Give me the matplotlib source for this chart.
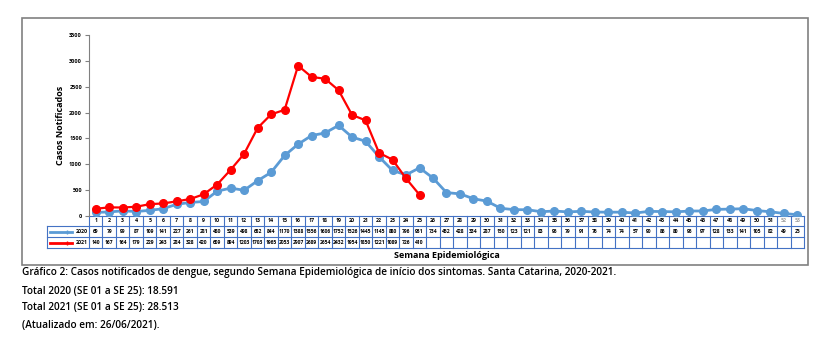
import numpy as np
import matplotlib
matplotlib.use("Agg")
import matplotlib.pyplot as plt
from matplotlib.patches import Rectangle
from matplotlib.lines import Line2D
import matplotlib.transforms as mtransforms

semanas = list(range(1, 54))
casos_2020 = [69, 79, 99, 87, 109, 141, 227, 261, 281, 480, 539, 498, 682, 844, 1170, 1388, 1556, 1606,
              1752, 1526, 1445, 1145, 880, 796, 931, 734, 452, 428, 334, 287, 150, 123, 121, 83, 96, 79,
              91, 76, 74, 74, 57, 90, 86, 80, 96, 97, 128, 133, 141, 105, 82, 49, 25]
casos_2021 = [140, 167, 164, 179, 229, 243, 284, 328, 420, 609, 894, 1203, 1703, 1965, 2053, 2907, 2689,
              2654, 2432, 1954, 1850, 1221, 1089, 726, 410]
y_ticks = [0, 500, 1000, 1500, 2000, 2500, 3000, 3500]

cor_2020 = "#5B9BD5"
cor_2021 = "#FF0000"
cor_grade = "#4472C4"

W, H = 829, 337
plt.rcParams['font.family'] = ['Open Sans', 'DejaVu Sans']
fig = plt.figure(figsize=(W / 100, H / 100), dpi=100)

# moldura do grafico
fig.patches.append(Rectangle((22 / W, 1 - 265 / H), (808 - 22) / W, (265 - 18) / H,
                             transform=fig.transFigure, fill=False, edgecolor="#808080", lw=1.2))

ax = fig.add_axes([89 / W, 1 - 216 / H, (804 - 89) / W, (216 - 35) / H])
ax.plot(semanas, casos_2020, color=cor_2020, lw=2, marker='o', ms=5.5, zorder=3)
ax.plot(semanas[:len(casos_2021)], casos_2021, color=cor_2021, lw=1.6, marker='o', ms=5.5, zorder=4)

ax.set_xlim(0.5, 53.5)
ax.set_ylim(0, 3500)
ax.set_yticks(y_ticks)
ax.set_yticklabels([str(v) for v in y_ticks], fontsize=4, fontweight='bold')
ax.tick_params(axis='y', length=3, width=0.8, color="#808080", pad=2)
ax.set_xticks([])
for s in ['top', 'right', 'bottom']:
    ax.spines[s].set_visible(False)
ax.spines['left'].set_color("#808080")
ax.set_ylabel("Casos Notificados", fontsize=6.5, fontweight='bold', labelpad=3)

# tabela de dados abaixo do eixo
trans = mtransforms.blended_transform_factory(ax.transData, ax.transAxes)
h_px = 216 - 35
rows = [0, -10 / h_px, -21 / h_px, -32 / h_px]
x_left = 0.5 - (89 - 47) / ((804 - 89) / 53)


def hline(x0, x1, y):
    ax.add_line(Line2D([x0, x1], [y, y], transform=trans, color=cor_grade, lw=0.8, clip_on=False))


def vline(x, y0, y1):
    ax.add_line(Line2D([x, x], [y0, y1], transform=trans, color=cor_grade, lw=0.8, clip_on=False))


hline(0.5, 53.5, rows[0])
for r in rows[1:]:
    hline(x_left, 53.5, r)
for i in range(54):
    vline(0.5 + i, rows[0], rows[3])
vline(x_left, rows[1], rows[3])

for s in semanas:
    cor = "#A0A0A0" if s >= 52 else "black"
    ax.text(s, (rows[0] + rows[1]) / 2, str(s), transform=trans, ha='center', va='center',
            fontsize=3.8, fontweight='bold', color=cor)
for s, v in zip(semanas, casos_2020):
    ax.text(s, (rows[1] + rows[2]) / 2, str(v), transform=trans, ha='center', va='center',
            fontsize=3.6, fontweight='bold')
for s, v in zip(semanas, casos_2021):
    ax.text(s, (rows[2] + rows[3]) / 2, str(v), transform=trans, ha='center', va='center',
            fontsize=3.6, fontweight='bold')

# legendas na tabela
for (r0, r1), cor, nome in [((rows[1], rows[2]), cor_2020, "2020"), ((rows[2], rows[3]), cor_2021, "2021")]:
    ym = (r0 + r1) / 2
    ax.add_line(Line2D([x_left + 0.2, x_left + 1.85], [ym, ym], transform=trans, color=cor, lw=2,
                       clip_on=False))
    ax.add_line(Line2D([x_left + 1.5], [ym], transform=trans, color=cor, marker='+', ms=3,
                       clip_on=False))
    ax.text(0.4, ym, nome, transform=trans, ha='right', va='center', fontsize=3.8, fontweight='bold')

fig.text(447 / W, 1 - 256 / H, "Semana Epidemiológica", ha='center', va='center',
         fontsize=6.5, fontweight='bold')

# legenda do grafico
linhas = ["Gráfico 2: Casos notificados de dengue, segundo Semana Epidemiológica de início dos sintomas. Santa Catarina, 2020-2021.",
          "Total 2020 (SE 01 a SE 25): 18.591",
          "Total 2021 (SE 01 a SE 25): 28.513",
          "(Atualizado em: 26/06/2021)."]
for txt, yp in zip(linhas, [273, 291, 308, 325]):
    fig.text(22 / W, 1 - yp / H, txt, ha='left', va='center', fontsize=7.2, fontweight='semibold')

fig.savefig("out.png", dpi=100)
